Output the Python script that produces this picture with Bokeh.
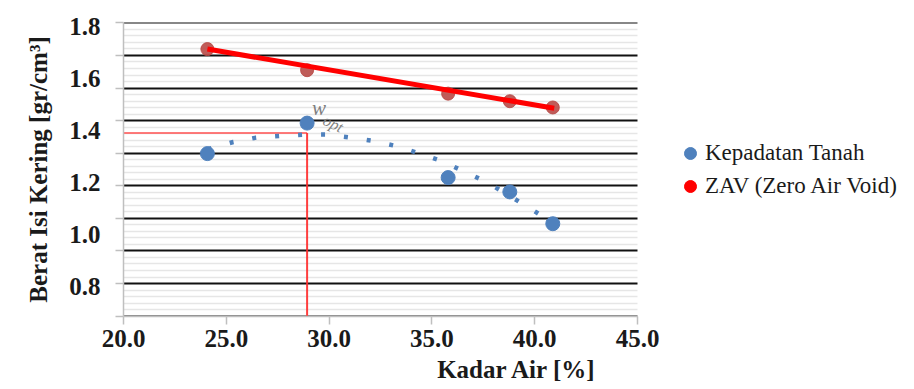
from bokeh.plotting import figure
from bokeh.models import (Range1d, LinearAxis, FixedTicker, NumeralTickFormatter,
                          Legend, LegendItem, BoxAnnotation)
from bokeh.core.properties import value
from bokeh.embed import file_html
from bokeh.resources import INLINE

# ---------------- data ----------------
kadar_air = [24.08, 28.93, 35.79, 38.79, 40.88]          # water content [%]
kepadatan = [1.311, 1.428, 1.219, 1.164, 1.042]         # dry density
zav = [1.712, 1.631, 1.541, 1.512, 1.488]               # zero air void

zav_trend_x = [24.08, 40.95]
zav_trend_y = [1.712, 1.485]

trend_x = [24.09, 25.34, 26.45, 27.60, 28.76, 29.90, 31.04, 32.17, 33.31,
           34.41, 35.50, 36.52, 37.59, 38.58, 39.59, 40.45, 40.88]
trend_y = [1.3275, 1.3555, 1.3724, 1.3785, 1.384, 1.384, 1.3724, 1.3594, 1.339,
           1.311, 1.2815, 1.244, 1.2046, 1.1585, 1.1097, 1.0675, 1.045]

w_opt = 28.93
gamma_max = 1.39
guide_x = [20.0, w_opt, w_opt]
guide_y = [gamma_max, gamma_max, 0.6875]

x_min, x_max = 20, 45
x_ticks = [20, 25, 30, 35, 40, 45]
y_label_ticks = [0.8, 1.0, 1.2, 1.4, 1.6, 1.8]
y_grid_ticks = [0.6875, 0.8125, 0.9375, 1.0625, 1.1875, 1.3125, 1.4375, 1.5625, 1.6875, 1.8125]

series_names = ["Kepadatan Tanah", "ZAV (Zero Air Void)"]
x_title = "Kadar Air [%]"
y_title = "Berat Isi Kering [gr/cm³]"

# ---------------- styling / layout ----------------
FONT = "Liberation Serif"
BLUE = "#4F81BD"
ZAV_MARK = "#B84A47"
RED = "#FF0000"
GRAY = "#BFBFBF"
TXT = "#1A1A1A"

W, H = 912, 389
LEFT, RIGHT, TOP, BOTTOM = 123, 2, 22, 73
PLOT_RIGHT_PX = 637          # pixel where x = 45 must sit
frame_w = W - LEFT - RIGHT
x_end = x_min + (x_max - x_min) * frame_w / (PLOT_RIGHT_PX - LEFT)

minor_step = 0.025
y_minor = []
for i in range(len(y_grid_ticks) - 1):
    for k in range(1, 5):
        y_minor.append(round(y_grid_ticks[i] + k * minor_step, 5))

p = figure(width=W, height=H,
           x_range=Range1d(x_min, x_end), y_range=Range1d(0.686, 1.814),
           output_backend="svg", toolbar_location=None,
           min_border_left=LEFT, min_border_right=RIGHT,
           min_border_top=TOP, min_border_bottom=BOTTOM,
           outline_line_color=None, background_fill_color="white",
           border_fill_color="white")

# grid
p.xgrid.grid_line_color = None
p.ygrid.ticker = FixedTicker(ticks=y_grid_ticks, minor_ticks=y_minor)
p.ygrid.grid_line_color = "#111111"
p.ygrid.grid_line_width = 1.8
p.ygrid.minor_grid_line_color = "#E6E6E6"
p.ygrid.minor_grid_line_width = 1.5

# keep the grid inside x = 20..45 (legend area stays blank)
try:
    p.ygrid.cross_bounds = (x_min, x_max)
except Exception:
    p.add_layout(BoxAnnotation(left=x_max, right=x_end + 5, fill_color="white",
                               fill_alpha=1.0, line_color=None, level="underlay"))

# x axis
xa = p.xaxis[0]
xa.bounds = (x_min, x_max)
xa.ticker = FixedTicker(ticks=x_ticks)
xa.formatter = NumeralTickFormatter(format="0.0")
xa.axis_line_color = GRAY
xa.axis_line_width = 1.5
xa.major_tick_line_color = GRAY
xa.major_tick_line_width = 1.5
xa.major_tick_out = 8
xa.major_tick_in = 0
xa.minor_tick_line_color = None
xa.major_label_text_font = FONT
xa.major_label_text_font_style = "bold"
xa.major_label_text_font_size = "25px"
xa.major_label_text_color = TXT
xa.major_label_standoff = 5
xa.axis_label = x_title
xa.axis_label_text_font = FONT
xa.axis_label_text_font_style = "bold"
xa.axis_label_text_font_size = "25px"
xa.axis_label_text_color = TXT
xa.axis_label_standoff = 6

# y axis (ticks at the gridlines, no labels)
ya = p.yaxis[0]
ya.ticker = FixedTicker(ticks=y_grid_ticks)
ya.major_label_overrides = {t: "" for t in y_grid_ticks}
ya.axis_line_color = GRAY
ya.axis_line_width = 1.5
ya.major_tick_line_color = GRAY
ya.major_tick_line_width = 1.5
ya.major_tick_out = 8
ya.major_tick_in = 0
ya.minor_tick_line_color = None
ya.major_label_standoff = 0

# y axis with the labels
yl = LinearAxis(ticker=FixedTicker(ticks=y_label_ticks),
                formatter=NumeralTickFormatter(format="0.0"),
                axis_line_color=None, major_tick_line_color=None,
                minor_tick_line_color=None, major_tick_out=0, major_tick_in=0,
                major_label_standoff=15,
                major_label_text_font=FONT, major_label_text_font_style="bold",
                major_label_text_font_size="25px", major_label_text_color=TXT,
                axis_label=y_title, axis_label_text_font=FONT,
                axis_label_text_font_style="bold", axis_label_text_font_size="25px",
                axis_label_text_color=TXT, axis_label_standoff=14)
p.add_layout(yl, "left")

# guide lines for w_opt
p.line(guide_x[:2], guide_y[:2], line_color="#FF5A5A", line_width=2, line_alpha=0.8)
p.line(guide_x[1:], guide_y[1:], line_color="#FF2A2A", line_width=2, line_alpha=0.9)

# trend of density (dotted)
p.line(trend_x, trend_y, line_color=BLUE, line_width=4.5, line_dash="4 19")

# density points
blue_r = p.scatter(kadar_air, kepadatan, size=14, fill_color=BLUE, line_color=BLUE)

# ZAV points + line
p.scatter(kadar_air, zav, size=13, fill_color=ZAV_MARK, line_color=ZAV_MARK, alpha=0.9)
p.line(zav_trend_x, zav_trend_y, line_color=RED, line_width=5)
# legend-only renderer (hidden in the plot)
zav_leg = p.scatter(kadar_air, zav, size=12, fill_color=RED, line_color=RED, visible=False)

# w_opt label
p.text([kadar_air[1]], [kepadatan[1]], text=["w"], x_offset=5, y_offset=-15,
       text_font=value(FONT), text_font_style="italic", text_font_size="21px",
       text_color="#7F7F7F", text_baseline="middle", text_align="left")
p.text([kadar_air[1]], [kepadatan[1]], text=["opt"], x_offset=17, y_offset=-4,
       text_font=value(FONT), text_font_style="italic", text_font_size="16px",
       text_color="#7F7F7F", text_baseline="middle", text_align="left", angle=-0.45)

legend = Legend(items=[LegendItem(label=series_names[0], renderers=[blue_r]),
                       LegendItem(label=series_names[1], renderers=[zav_leg])],
                location=(552, 115), orientation="vertical",
                border_line_color=None, background_fill_alpha=0,
                inactive_fill_alpha=0, click_policy="none",
                padding=0, margin=0, spacing=3,
                glyph_width=30, glyph_height=30, label_standoff=0,
                label_text_font=FONT, label_text_font_size="23px",
                label_text_color=TXT)
p.add_layout(legend, "center")

open("out.html", "w").write(file_html(p, INLINE))
